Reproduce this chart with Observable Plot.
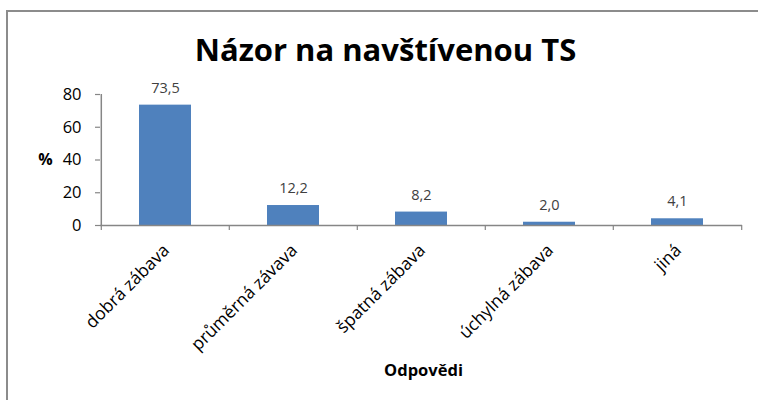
<!DOCTYPE html>
<html>
<head>
<meta charset="utf-8">
<script src="https://cdn.jsdelivr.net/npm/d3@7"></script>
<script src="https://cdn.jsdelivr.net/npm/@observablehq/plot@0.6"></script>
<style>
  html, body { margin: 0; padding: 0; background: #fff; }
  #wrap { position: relative; width: 758px; height: 400px; overflow: hidden; }
  #border { position: absolute; left: 6px; top: 10px; width: 800px; height: 450px; border: 2px solid #8c8c8c; box-sizing: border-box; }
  #chart { position: absolute; left: 0; top: 0; }
</style>
</head>
<body>
<div id="wrap"><div id="border"></div><div id="chart"></div></div>
<script>
const title = "Názor na navštívenou TS";
const xTitle = "Odpovědi";
const yTitle = "%";
const categories = ["dobrá zábava", "průměrná závava", "špatná zábava", "úchylná zábava", "jiná"];
const values = [73.5, 12.2, 8.2, 2.0, 4.1];
const yTicks = [0, 20, 40, 60, 80];

const data = categories.map((c, i) => ({category: c, value: values[i]}));
const fmt = v => v.toFixed(1).replace(".", ",");
const font = "'Open Sans', sans-serif";
const axisColor = "#868686";

const W = 758, H = 400;
const mL = 100, mR = 16, mT = 94, mB = 175;
const step = (W - mL - mR) / categories.length;
const frameH = H - mT - mB;

const chart = Plot.plot({
  width: W,
  height: H,
  marginLeft: mL,
  marginRight: mR,
  marginTop: mT,
  marginBottom: mB,
  style: {fontFamily: font, background: "transparent", overflow: "visible"},
  x: {domain: categories, paddingInner: 0.595, paddingOuter: 0.2975, axis: null},
  y: {domain: [0, 80], axis: null},
  marks: [
    Plot.barY(data, {x: "category", y: "value", fill: "#4f81bd"}),
    Plot.ruleY([0], {stroke: axisColor, strokeWidth: 1.5}),
    Plot.ruleX([categories[0]], {x: d => d, dx: -step / 2, y1: 0, y2: 80, stroke: axisColor, strokeWidth: 1.5}),
    Plot.axisY({ticks: yTicks, tickSize: 5, tickPadding: 14, stroke: axisColor, fill: "#000", fontSize: 16.5, tickFormat: d => String(d), label: null, strokeWidth: 1.2}),
    Plot.tickX(categories, {x: d => d, dx: -step / 2, stroke: axisColor, insetTop: frameH, insetBottom: -5, strokeWidth: 1.2}),
    Plot.tickX([categories[categories.length - 1]], {x: d => d, dx: step / 2, stroke: axisColor, insetTop: frameH, insetBottom: -5, strokeWidth: 1.2}),
    Plot.axisX({tickSize: 0, tickPadding: 22, tickRotate: -45, fontSize: 17.5, fill: "#000", label: null, dx: 1}),
    Plot.text(data, {x: "category", y: "value", text: d => fmt(d.value), dy: -17, fontSize: 14.5, fill: "#404040"}),
    Plot.text([title], {frameAnchor: "top", lineAnchor: "middle", dx: -36, dy: -43, fontSize: 31, fontWeight: "bold", fill: "#000"}),
    Plot.text([yTitle], {frameAnchor: "left", textAnchor: "middle", lineAnchor: "middle", dx: -55, dy: 0, fontSize: 16, fontWeight: "bold", fill: "#000"}),
    Plot.text([xTitle], {frameAnchor: "bottom", lineAnchor: "middle", dx: 2, dy: 145, fontSize: 16.5, fontWeight: "bold", fill: "#000"})
  ]
});
document.getElementById("chart").appendChild(chart);
</script>
</body>
</html>
